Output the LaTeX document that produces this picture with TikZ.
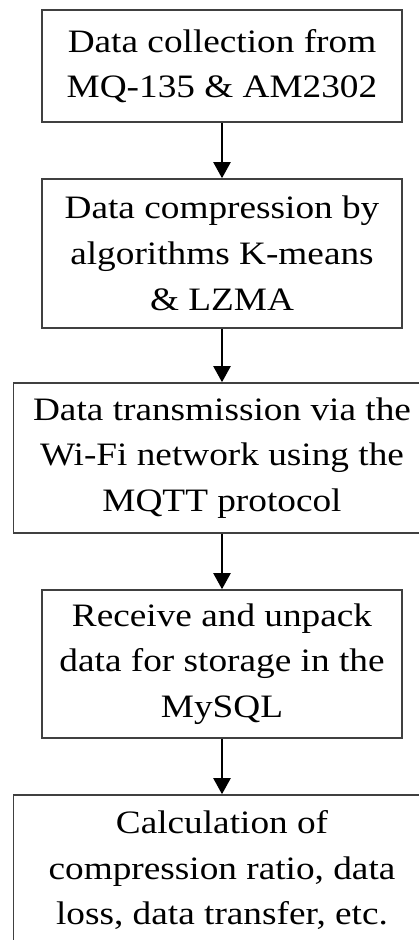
\documentclass[tikz,border=0pt]{standalone}
\usepackage{fontspec}
\setmainfont{Liberation Serif}[FakeStretch=1.14]
\usetikzlibrary{arrows.meta}
\begin{document}
\begin{tikzpicture}[x=1pt,y=-1pt,
  stepbox/.style={draw=black!75, line width=1.6pt, fill=white, align=center,
    inner sep=0pt, font=\fontsize{32.7}{45.7}\selectfont},
  flow/.style={draw=black, line width=2.2pt, -{Triangle[length=16pt,width=17pt]}}]
\useasboundingbox (0,0) rectangle (419,940);
\clip (0,0) rectangle (419,940);
\fill[white] (0,0) rectangle (419,940);

\node[stepbox, minimum width=360.5pt, minimum height=112.5pt] (s1) at (222,66)
  {Data collection from\\MQ-135 \& AM2302};
\node[stepbox, minimum width=360.5pt, minimum height=149pt] (s2) at (222,253.5)
  {Data compression by\\algorithms K-means\\\& LZMA};
\node[stepbox, minimum width=417pt, minimum height=150pt] (s3) at (222,458)
  {Data transmission via the\\Wi-Fi network using the\\MQTT protocol};
\node[stepbox, minimum width=360.5pt, minimum height=148pt] (s4) at (222,664)
  {Receive and unpack\\data for storage in the\\MySQL};
\node[stepbox, minimum width=417pt, minimum height=150pt] (s5) at (222,870)
  {Calculation of\\compression ratio, data\\loss, data transfer, etc.};

\draw[flow] (s1) -- (s2);
\draw[flow] (s2) -- (s3);
\draw[flow] (s3) -- (s4);
\draw[flow] (s4) -- (s5);
\end{tikzpicture}
\end{document}
